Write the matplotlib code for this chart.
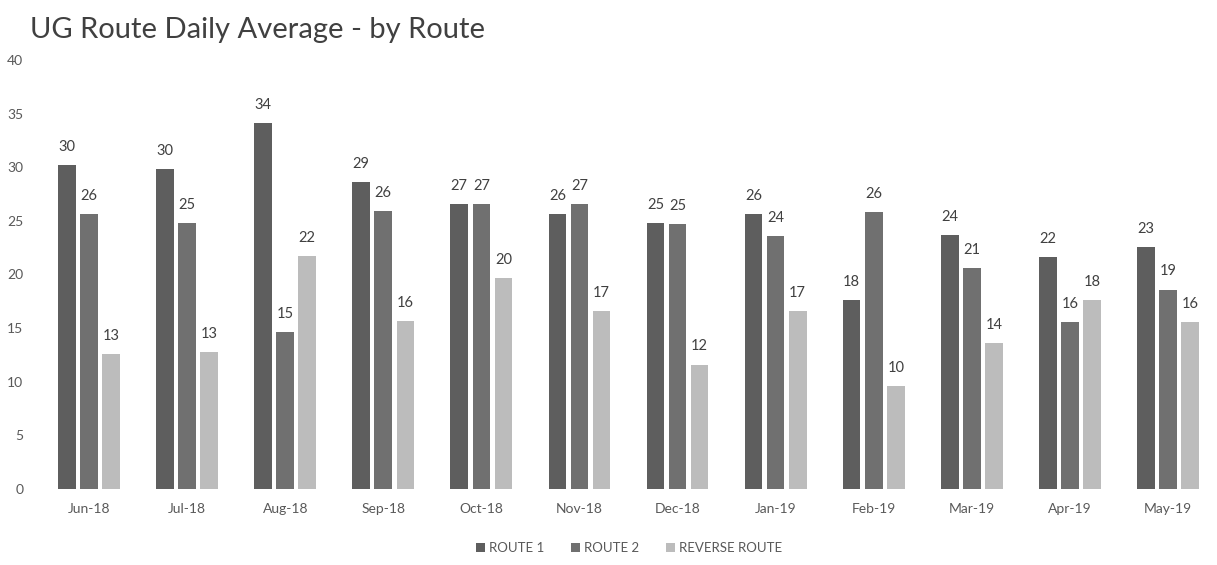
import numpy as np
import matplotlib
matplotlib.use("Agg")
from matplotlib import pyplot as plt
from matplotlib.patches import Patch

months = ['Jun-18', 'Jul-18', 'Aug-18', 'Sep-18', 'Oct-18', 'Nov-18',
          'Dec-18', 'Jan-19', 'Feb-19', 'Mar-19', 'Apr-19', 'May-19']
route1 = [30.2, 29.8, 34.1, 28.6, 26.6, 25.6, 24.8, 25.6, 17.6, 23.7, 21.6, 22.6]
route2 = [25.6, 24.8, 14.6, 25.9, 26.6, 26.6, 24.7, 23.6, 25.8, 20.6, 15.6, 18.6]
reverse = [12.6, 12.8, 21.7, 15.7, 19.7, 16.6, 11.6, 16.6, 9.6, 13.6, 17.6, 15.6]
series_names = ['ROUTE 1', 'ROUTE 2', 'REVERSE ROUTE']
colors = ['#5e5e5e', '#707070', '#bcbcbc']

plt.rcParams['font.family'] = ['Lato', 'DejaVu Sans']

fig = plt.figure(figsize=(12.17, 5.65), dpi=100)
ax = fig.add_axes([40 / 1217, 1 - 489 / 565, 1 - 40 / 1217, (489 - 60) / 565])

x = np.arange(len(months))
width = 0.18
step = 0.225
for k, (vals, name, col) in enumerate(zip([route1, route2, reverse], series_names, colors)):
    bars = ax.bar(x + (k - 1) * step, vals, width, color=col, label=name)
    ax.bar_label(bars, labels=['%.0f' % v for v in vals], padding=8,
                 fontsize=10.5, color='#404040')

ax.set_xlim(-0.5, len(months) - 0.5)
ax.set_ylim(0, 40)
ax.set_yticks(range(0, 41, 5))
ax.set_xticks(x)
ax.set_xticklabels(months)
ax.tick_params(axis='both', length=0, labelsize=10, labelcolor='#595959')
ax.tick_params(axis='y', pad=12)
ax.tick_params(axis='x', pad=10)
for s in ax.spines.values():
    s.set_visible(False)

fig.text(30 / 1217, 1 - 30 / 565, 'UG Route Daily Average - by Route',
         fontsize=21, color='#404040', va='center', ha='left')

handles = [Patch(facecolor=c, label=n) for c, n in zip(colors, series_names)]
fig.legend(handles=handles, loc='center', bbox_to_anchor=(629 / 1217, 1 - 548 / 565),
           ncol=3, frameon=False, fontsize=9.5, labelcolor='#595959',
           handlelength=0.7, handleheight=0.7, handletextpad=0.3, columnspacing=2.0)

plt.savefig('out.png', dpi=100)
